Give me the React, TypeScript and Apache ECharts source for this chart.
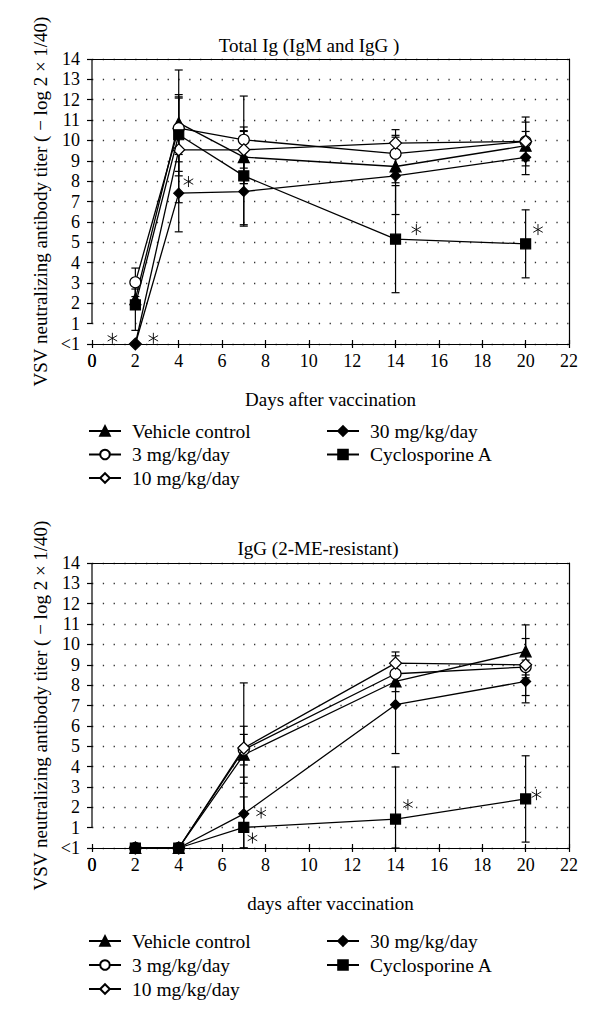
import React, { useEffect, useRef } from "react";
import * as echarts from "echarts";

// ---------- data ----------
const days = [2, 4, 7, 14, 20];
const seriesNames = ["Vehicle control", "3 mg/kg/day", "10 mg/kg/day", "30 mg/kg/day", "Cyclosporine A"];
const yTickLabels = ["<1", "1", "2", "3", "4", "5", "6", "7", "8", "9", "10", "11", "12", "13", "14"];
const xOriginLabel = "0";

// Panel 1: Total Ig (IgM and IgG)
const vehicleTotal = [2.2, 10.86, 9.18, 8.72, 9.74];
const mg3Total = [3.03, 10.6, 10.03, 9.35, 9.95];
const mg10Total = [0, 9.54, 9.54, 9.87, 9.95];
const mg30Total = [0, 7.41, 7.49, 8.26, 9.17];
const cyaTotal = [1.92, 10.28, 8.26, 5.15, 4.92];
const vehicleTotalSD = [0.5, 2.6, 1.3, 0.8, 0.7];
const mg3TotalSD = [0.7, 1.65, 2.15, 0.9, 1.2];
const mg10TotalSD = [0, 2.6, 0.9, 0.66, 0.95];
const mg30TotalSD = [0, 1.9, 1.7, 1.9, 0.85];
const cyaTotalSD = [1.25, 1.8, 2.4, 2.63, 1.67];
const starTotalX = [0.94, 2.83, 4.45, 14.96, 20.57];
const starTotalY = [0.28, 0.28, 7.98, 5.62, 5.62];

// Panel 2: IgG (2-ME-resistant)
const vehicleIgG = [0, 0, 4.58, 8.18, 9.66];
const mg3IgG = [0, 0, 4.83, 8.56, 8.89];
const mg10IgG = [0, 0, 4.91, 9.08, 9.0];
const mg30IgG = [0, 0, 1.68, 7.04, 8.18];
const cyaIgG = [0, 0, 1.01, 1.42, 2.41];
const vehicleIgGSD = [0, 0, 1.4, 0.5, 1.3];
const mg3IgGSD = [0, 0, 0.75, 0.6, 1.4];
const mg10IgGSD = [0, 0, 3.2, 0.55, 0.5];
const mg30IgGSD = [0, 0, 1.8, 2.4, 1.05];
const cyaIgGSD = [0, 0, 1.5, 2.56, 2.12];
const starIgGX = [7.8, 7.4, 14.57, 20.5];
const starIgGY = [1.72, 0.49, 2.13, 2.62];

// ---------- styles ----------
const FONT = "Liberation Serif";
const TICK_FONT = 18;
const markerStyles = [
  { symbol: "triangle", size: 11, fill: "#000" },
  { symbol: "circle", size: 11, fill: "#fff" },
  { symbol: "diamond", size: 12, fill: "#fff" },
  { symbol: "diamond", size: 10, fill: "#000" },
  { symbol: "rect", size: 10, fill: "#000" },
];

const GRID_LEFT = 92;
const GRID_RIGHT = 31;
const GRID_H = 285;
const GRID_TOPS = [59, 563];
const X_LABEL_MARGIN = 8;

function buildPanel(gi: number, values: number[][], sds: number[][], starX: number[], starY: number[]) {
  const xi = gi * 3;
  const yi = gi * 2;
  const series: any[] = [];
  // left axis line with break between <1 and 1
  series.push({
    type: "line",
    xAxisIndex: xi,
    yAxisIndex: yi,
    data: [[0, 1], [0, 14]],
    symbol: "none",
    silent: true,
    clip: false,
    lineStyle: { color: "#000", width: 1.2 },
    z: 3,
  });
  // error bars
  const err: number[][] = [];
  values.forEach((vals, si) => {
    vals.forEach((v, i) => {
      const sd = sds[si][i];
      if (sd > 0) err.push([days[i], Math.max(0, v - sd), v + sd]);
    });
  });
  series.push({
    type: "custom",
    xAxisIndex: xi,
    yAxisIndex: yi,
    data: err,
    silent: true,
    clip: false,
    z: 1,
    encode: { x: 0, y: [1, 2] },
    renderItem: (_p: any, api: any) => {
      const x = api.value(0);
      const top = api.coord([x, api.value(2)]);
      const bot = api.coord([x, api.value(1)]);
      const w = 4;
      const st = { stroke: "#000", lineWidth: 1.2 };
      return {
        type: "group",
        children: [
          { type: "line", shape: { x1: top[0], y1: top[1], x2: bot[0], y2: bot[1] }, style: st },
          { type: "line", shape: { x1: top[0] - w, y1: top[1], x2: top[0] + w, y2: top[1] }, style: st },
          { type: "line", shape: { x1: bot[0] - w, y1: bot[1], x2: bot[0] + w, y2: bot[1] }, style: st },
        ],
      };
    },
  });
  // data lines
  values.forEach((vals, si) => {
    const m = markerStyles[si];
    series.push({
      type: "line",
      name: seriesNames[si],
      xAxisIndex: xi,
      yAxisIndex: yi,
      data: vals.map((v, i) => [days[i], v]),
      symbol: m.symbol,
      symbolSize: m.size,
      showAllSymbol: true,
      clip: false,
      z: 2 + si * 0.1,
      lineStyle: { color: "#000", width: 1.3 },
      itemStyle: { color: m.fill, borderColor: "#000", borderWidth: 1.2 },
    });
  });
  // asterisks (significance marks), drawn as six thin arms
  series.push({
    type: "custom",
    xAxisIndex: xi,
    yAxisIndex: yi,
    data: starX.map((x, i) => [x, starY[i]]),
    silent: true,
    clip: false,
    z: 5,
    renderItem: (_p: any, api: any) => {
      const c = api.coord([api.value(0), api.value(1)]);
      const r = 5.5;
      const st = { stroke: "#000", lineWidth: 0.9 };
      const children = [90, 30, 150].map((deg) => {
        const a = (deg * Math.PI) / 180;
        const dx = r * Math.cos(a);
        const dy = r * Math.sin(a);
        return { type: "line", shape: { x1: c[0] - dx, y1: c[1] - dy, x2: c[0] + dx, y2: c[1] + dy }, style: st };
      });
      return { type: "group", children };
    },
  });
  return series;
}

function axesFor(gi: number, xName: string) {
  const labelStyle = { fontFamily: FONT, fontSize: TICK_FONT, color: "#000" };
  const xAxes = [
    {
      type: "value",
      gridIndex: gi,
      min: 0,
      max: 22,
      interval: 2,
      position: "bottom",
      name: xName,
      nameLocation: "middle",
      nameGap: 46,
      nameTextStyle: { fontFamily: FONT, fontSize: 19, color: "#000" },
      axisLine: { show: true, onZero: false, lineStyle: { color: "#000", width: 1.2 } },
      axisTick: { show: true, length: 4, lineStyle: { color: "#000", width: 1.2 } },
      axisLabel: { ...labelStyle, margin: X_LABEL_MARGIN, showMinLabel: true, showMaxLabel: true, hideOverlap: false },
      splitLine: { show: false },
    },
    {
      type: "value",
      gridIndex: gi,
      min: 0,
      max: 22,
      interval: 2,
      position: "bottom",
      axisLine: { show: false, onZero: false },
      axisTick: { show: true, inside: true, length: 4, lineStyle: { color: "#000", width: 1.2 } },
      axisLabel: { show: false },
      splitLine: { show: false },
    },
    {
      type: "value",
      gridIndex: gi,
      min: 0,
      max: 22,
      position: "top",
      axisLine: { show: true, onZero: false, lineStyle: { color: "#000", width: 1.2 } },
      axisTick: { show: false },
      axisLabel: { show: false },
      splitLine: { show: false },
    },
  ];
  const yAxes = [
    {
      type: "value",
      gridIndex: gi,
      min: 0,
      max: 14,
      interval: 1,
      position: "left",
      name: "VSV neutralizing antibody titer ( − log 2 × 1/40)",
      nameLocation: "middle",
      nameGap: 40,
      nameTextStyle: { fontFamily: FONT, fontSize: 19, color: "#000" },
      axisLine: { show: false, onZero: false },
      axisTick: { show: true, length: 5, lineStyle: { color: "#000", width: 1.2 } },
      axisLabel: { ...labelStyle, margin: 12, showMinLabel: true, formatter: (v: number) => yTickLabels[v] ?? "" },
      splitLine: { show: true, lineStyle: { color: "#333", width: 1.3, type: [1.3, 9.5] } },
    },
    {
      type: "value",
      gridIndex: gi,
      min: 0,
      max: 14,
      position: "right",
      axisLine: { show: true, onZero: false, lineStyle: { color: "#000", width: 1.2 } },
      axisTick: { show: false },
      axisLabel: { show: false },
      splitLine: { show: false },
    },
  ];
  return { xAxes, yAxes };
}

function legendsFor(top: number, gap: number) {
  const base = {
    orient: "vertical",
    itemWidth: 32,
    itemHeight: 12,
    itemGap: gap,
    selectedMode: false,
    textStyle: { fontFamily: FONT, fontSize: 19.5, color: "#000", lineHeight: 22, padding: [0, 0, 0, 6] },
  };
  return [
    { ...base, left: 83, top, data: seriesNames.slice(0, 3) },
    { ...base, left: 321, top, data: seriesNames.slice(3) },
  ];
}

export default function App() {
  const ref = useRef<HTMLDivElement>(null);
  useEffect(() => {
    if (!ref.current) return;
    const chart = echarts.init(ref.current, null, { renderer: "svg" });
    const a0 = axesFor(0, "Days after vaccination");
    const a1 = axesFor(1, "days after vaccination");
    const series = [
      ...buildPanel(
        0,
        [vehicleTotal, mg3Total, mg10Total, mg30Total, cyaTotal],
        [vehicleTotalSD, mg3TotalSD, mg10TotalSD, mg30TotalSD, cyaTotalSD],
        starTotalX,
        starTotalY
      ),
      ...buildPanel(
        1,
        [vehicleIgG, mg3IgG, mg10IgG, mg30IgG, cyaIgG],
        [vehicleIgGSD, mg3IgGSD, mg10IgGSD, mg30IgGSD, cyaIgGSD],
        starIgGX,
        starIgGY
      ),
    ];
    const titles = [
      { text: "Total Ig (IgM and IgG )", x: 309, y: 45 },
      { text: "IgG (2-ME-resistant)", x: 318, y: 548 },
    ];
    const baseGraphic = titles.map((t) => ({
      type: "text",
      x: t.x,
      y: t.y,
      style: { text: t.text, fontFamily: FONT, fontSize: 19, fill: "#000", align: "center", verticalAlign: "middle" },
    }));
    chart.setOption({
      animation: false,
      backgroundColor: "#fff",
      grid: GRID_TOPS.map((t) => ({ left: GRID_LEFT, right: GRID_RIGHT, top: t, height: GRID_H, show: false })),
      xAxis: [...a0.xAxes, ...a1.xAxes],
      yAxis: [...a0.yAxes, ...a1.yAxes],
      legend: [...legendsFor(415, 1.5), ...legendsFor(925, 2)],
      graphic: baseGraphic,
      series,
    });
    // The origin tick label "0" is suppressed by ECharts where the axes cross; place it via the axis scale.
    const originLabels = [0, 1].map((gi) => {
      const p = chart.convertToPixel({ xAxisIndex: gi * 3, yAxisIndex: gi * 2 }, [0, 0]) as number[];
      return {
        type: "text",
        x: p[0],
        y: p[1] + X_LABEL_MARGIN,
        style: { text: xOriginLabel, fontFamily: FONT, fontSize: TICK_FONT, fill: "#000", align: "center", verticalAlign: "top" },
      };
    });
    chart.setOption({ graphic: [...baseGraphic, ...originLabels] });
    return () => chart.dispose();
  }, []);
  return <div ref={ref} style={{ position: "absolute", left: 0, top: 0, width: 600, height: 1020 }} />;
}
